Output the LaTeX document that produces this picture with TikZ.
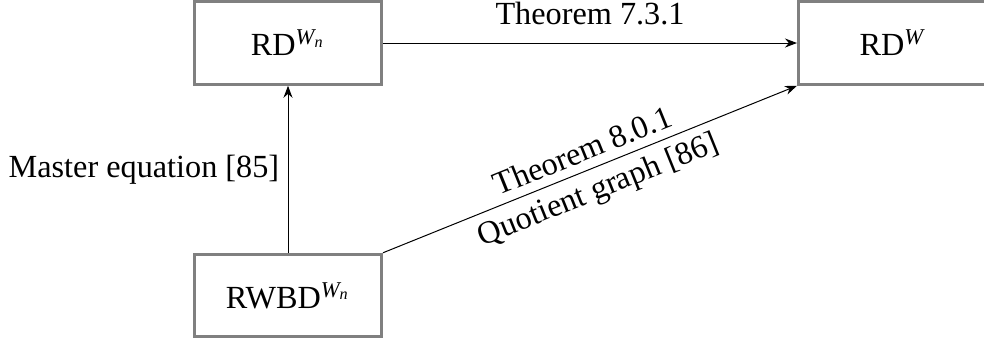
\documentclass[tikz,border=0pt]{standalone}
\usepackage{amsmath}
\usepackage{fontspec}
\setmainfont{Liberation Serif}
\usetikzlibrary{arrows.meta}
\definecolor{boxgray}{RGB}{128,128,128}
\tikzset{
  box/.style={draw=boxgray, line width=1.2pt, fill=white, minimum width=74.8pt, minimum height=33pt, inner sep=0pt, font=\fontsize{12.9}{15}\selectfont},
  conn/.style={-{Stealth}, line width=0.4pt, black},
  lbl/.style={font=\fontsize{12.9}{15}\selectfont}
}
\begin{document}
\begin{tikzpicture}[x=0.4pt, y=-0.4pt]
\useasboundingbox (0,0) rectangle (984,343);
\node[box] (rdwn) at (288,43) {RD$^{\textit{W}_{\textit{n}}}$};
\node[box] (rdw) at (892,43) {RD$^{\textit{W}}$};
\node[box] (rwbd) at (288,295.5) {RWBD$^{\textit{W}_{\textit{n}}}$};
\draw[conn] (rdwn) -- node[lbl, above, yshift=3.7pt] {Theorem 7.3.1} (rdw);
\draw[conn] (rwbd) -- node[lbl, left] {Master equation [85]} (rdwn);
\draw[conn] (rwbd.north east) -- node[lbl, sloped, above] {Theorem 8.0.1} node[lbl, sloped, below] {Quotient graph [86]} (rdw.south west);
\end{tikzpicture}
\end{document}
